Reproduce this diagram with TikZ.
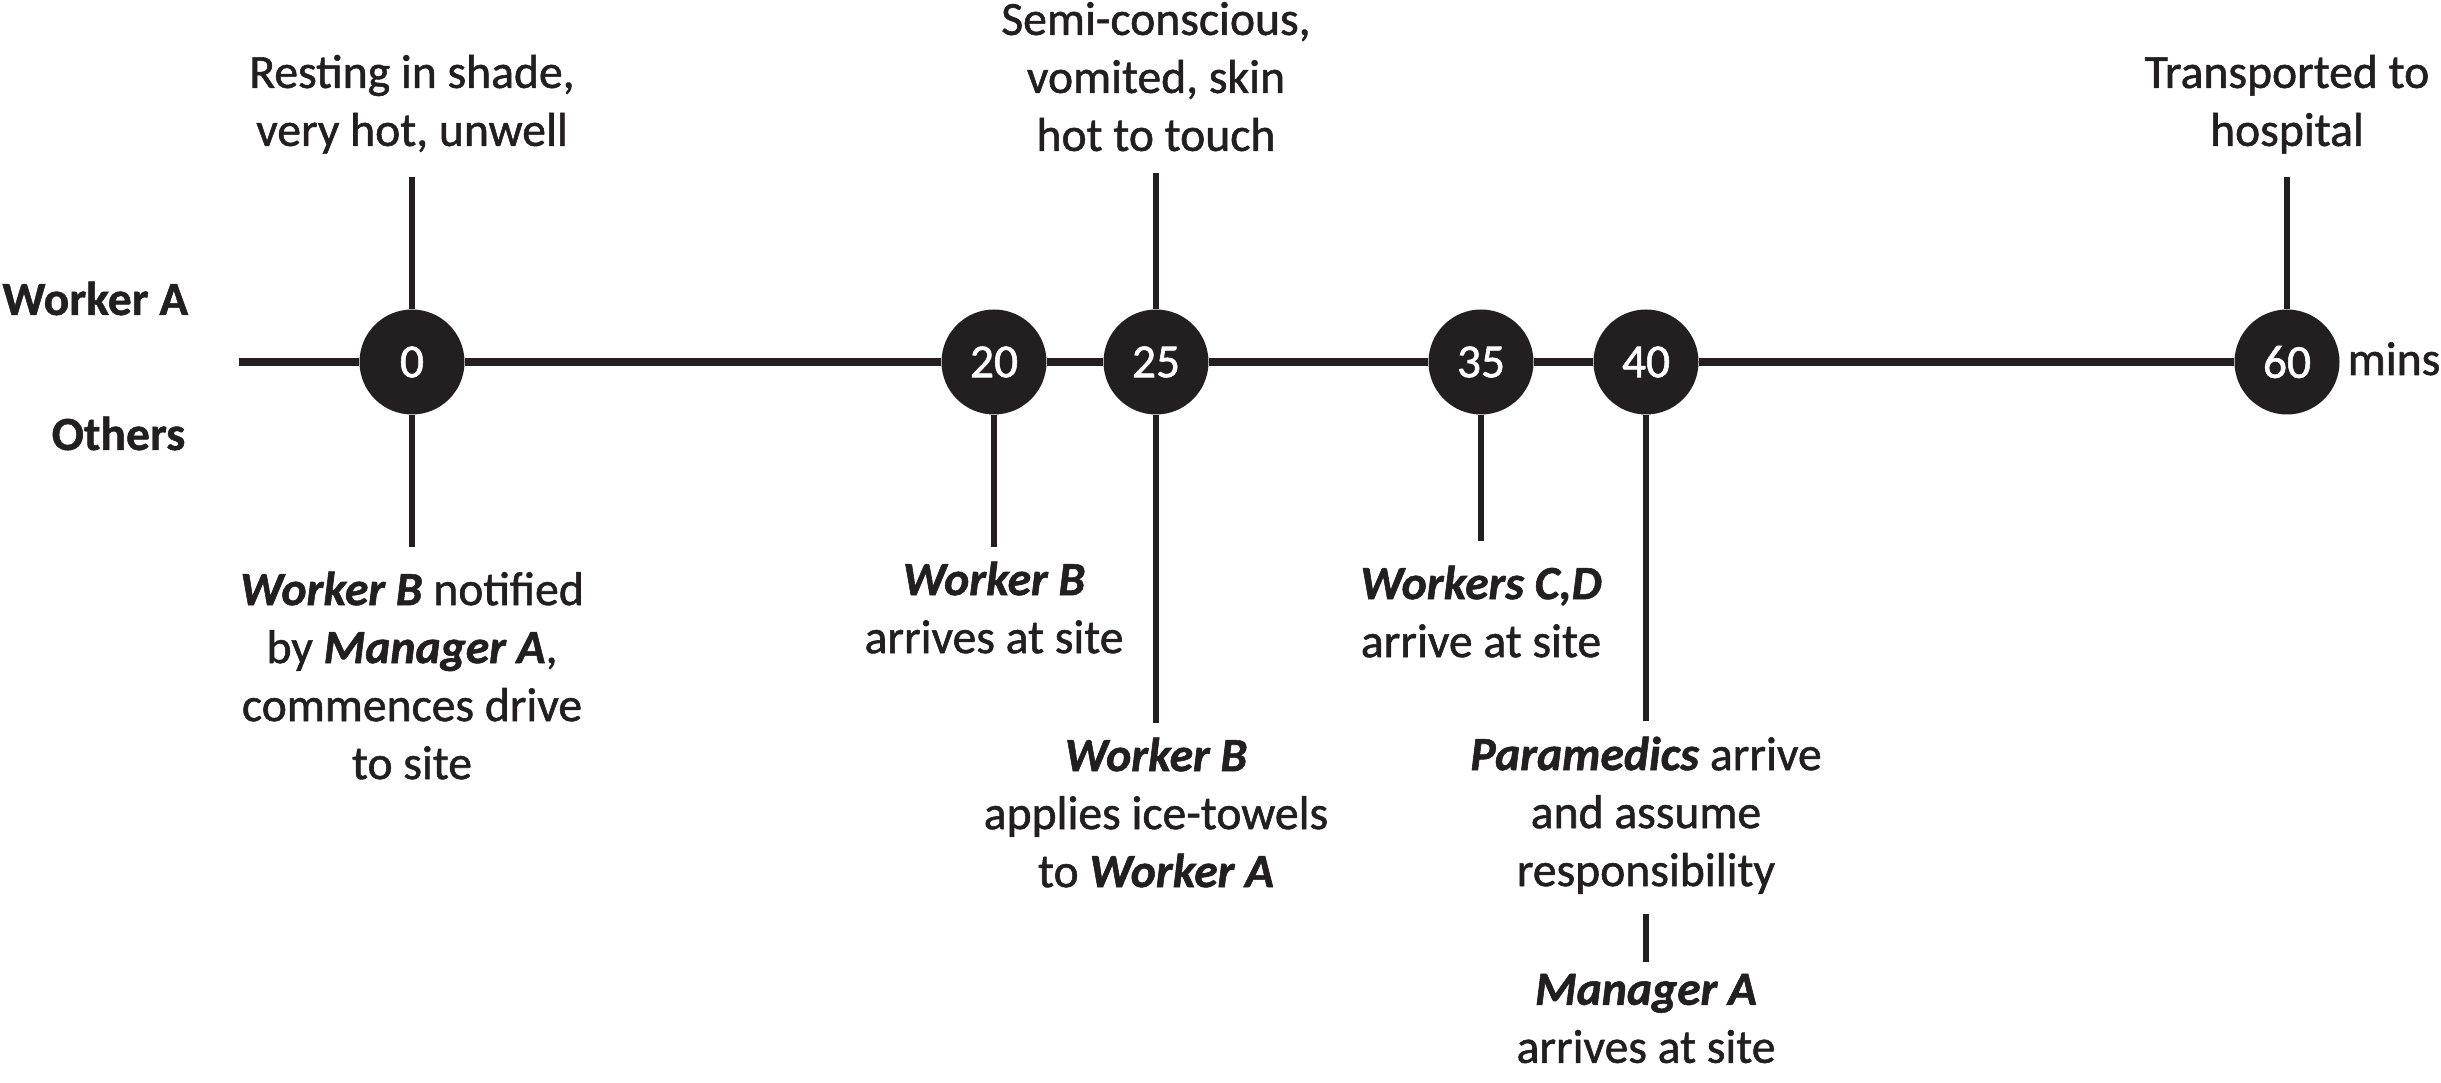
\documentclass[tikz,border=0pt]{standalone}
\usepackage{fontspec}
\setmainfont{Carlito}[UprightFeatures={FakeBold=1.2}, BoldFeatures={FakeBold=1}, BoldItalicFeatures={FakeBold=1.2}]
\usetikzlibrary{positioning}
\newcommand{\who}[1]{\textbf{\textit{#1}}}

\begin{document}
\begin{tikzpicture}[
    tick/.style={circle, fill=inkdark, minimum size=1.05cm, inner sep=0pt, text=white,
        font=\fontsize{13.5}{16.5}\selectfont},
    axis/.style={draw=inkdark, line width=0.085cm},
    stem/.style={draw=inkdark, line width=0.06cm},
    event/.style={align=center, inner sep=0pt, text=inkdark,
        font=\fontsize{13.55}{16.5}\selectfont,
        execute at begin node=\strut, execute at end node=\strut},
    side/.style={inner sep=0pt, text=inkdark, font=\fontsize{13.55}{16.5}\selectfont\bfseries}
  ]
    \definecolor{inkdark}{HTML}{231F20}
    \useasboundingbox (0, 0) rectangle (24.41, -10.83);
    % Row labels
    \node[side, anchor=base east] (workerA) at (1.89, -3.15) {Worker A};
    \node[side, anchor=base east] (others) at (1.86, -4.50) {Others};
    % Time axis
    \coordinate (start) at (2.39, -3.62);
    \node[tick] (t0) at (4.12, -3.62) {0};
    \node[tick] (t20) at (9.94, -3.62) {20};
    \node[tick] (t25) at (11.56, -3.62) {25};
    \node[tick] (t35) at (14.81, -3.62) {35};
    \node[tick] (t40) at (16.46, -3.62) {40};
    \node[tick] (t60) at (22.87, -3.62) {60};
    \draw[axis] (start) -- (t0) -- (t20) -- (t25) -- (t35) -- (t40) -- (t60);
    \node[event, anchor=base west] (mins) at (23.47, -3.75) {mins};
    % 0 mins
    \coordinate (t0top) at (4.12, -1.77);
    \coordinate (t0bot) at (4.12, -5.47);
    \draw[stem] (t0) -- (t0top);
    \draw[stem] (t0) -- (t0bot);
    \node[event, above=0.13cm of t0top] (rest) {Resting in shade,\\very hot, unwell};
    \node[event, below=0.24cm of t0bot] (notify) {\who{Worker B} notified\\by \who{Manager A},\\commences drive\\to site};
    % 20 mins
    \coordinate (t20bot) at (9.94, -5.47);
    \draw[stem] (t20) -- (t20bot);
    \node[event, below=0.14cm of t20bot] (arriveB) {\who{Worker B}\\arrives at site};
    % 25 mins
    \coordinate (t25top) at (11.56, -1.73);
    \coordinate (t25bot) at (11.56, -7.23);
    \draw[stem] (t25) -- (t25top);
    \draw[stem] (t25) -- (t25bot);
    \node[event, above=0.04cm of t25top] (semi) {Semi-conscious,\\vomited, skin\\hot to touch};
    \node[event, below=0.14cm of t25bot] (towels) {\who{Worker B}\\applies ice-towels\\to \who{Worker A}};
    % 35 mins
    \coordinate (t35bot) at (14.81, -5.41);
    \draw[stem] (t35) -- (t35bot);
    \node[event, below=0.24cm of t35bot] (arriveCD) {\who{Workers C,D}\\arrive at site};
    % 40 mins
    \coordinate (t40bot) at (16.46, -7.21);
    \draw[stem] (t40) -- (t40bot);
    \node[event, below=0.15cm of t40bot] (para) {\who{Paramedics} arrive\\and assume\\responsibility};
    \node[event, below=0.69cm of para] (mgr) {\who{Manager A}\\arrives at site};
    \draw[stem, shorten <=0.1cm, shorten >=0.11cm] (para) -- (mgr);
    % 60 mins
    \coordinate (t60top) at (22.87, -1.77);
    \draw[stem] (t60) -- (t60top);
    \node[event, above=0.13cm of t60top] (hosp) {Transported to\\hospital};
\end{tikzpicture}
\end{document}
